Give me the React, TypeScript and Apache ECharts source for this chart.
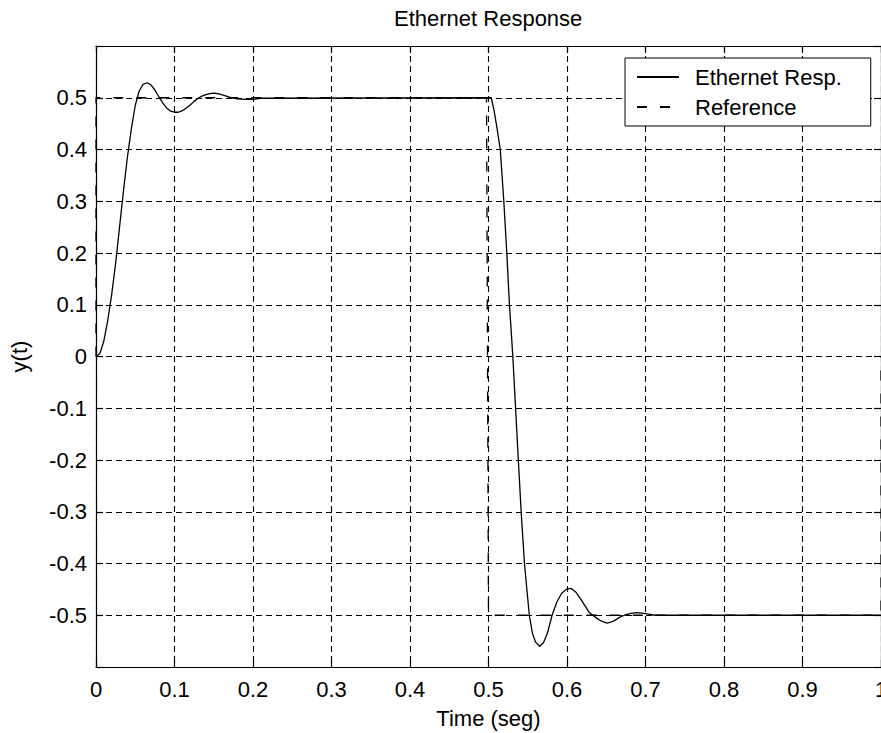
import React, { useEffect, useRef } from "react";
import * as echarts from "echarts";

const chartTitle = "Ethernet Response";
const xAxisName = "Time (seg)";
const yAxisName = "y(t)";
const seriesNames = ["Ethernet Resp.", "Reference"];

// Ethernet response
const respT = [
  0, 0.005, 0.01, 0.015, 0.02, 0.025, 0.03, 0.035, 0.04, 0.045, 0.05, 0.055, 0.06, 0.065, 0.07,
  0.075, 0.08, 0.085, 0.09, 0.095, 0.1, 0.105, 0.11, 0.115, 0.12, 0.125, 0.13, 0.135, 0.14, 0.145,
  0.15, 0.155, 0.16, 0.17, 0.18, 0.19, 0.2, 0.21, 0.5035, 0.507, 0.511, 0.515, 0.5195, 0.5233,
  0.5267, 0.531, 0.5345, 0.538, 0.5416, 0.5458, 0.552, 0.556, 0.56, 0.565, 0.57, 0.575, 0.581,
  0.587, 0.593, 0.599, 0.605, 0.611, 0.617, 0.623, 0.628, 0.633, 0.639, 0.645, 0.651, 0.657,
  0.663, 0.668, 0.673, 0.68, 0.688, 0.696, 0.704, 0.712, 1.0,
];
const respY = [
  0, 0.006, 0.03, 0.07, 0.12, 0.18, 0.25, 0.32, 0.385, 0.44, 0.485, 0.513, 0.526, 0.529, 0.525,
  0.515, 0.502, 0.49, 0.48, 0.474, 0.472, 0.472, 0.475, 0.48, 0.486, 0.493, 0.499, 0.503, 0.506,
  0.508, 0.509, 0.508, 0.506, 0.501, 0.498, 0.497, 0.497, 0.499, 0.5, 0.476, 0.44, 0.4, 0.3, 0.2,
  0.1, 0, -0.1, -0.2, -0.3, -0.4, -0.5, -0.535, -0.552, -0.56, -0.553, -0.535, -0.5, -0.475,
  -0.458, -0.45, -0.448, -0.455, -0.468, -0.482, -0.494, -0.5, -0.507, -0.512, -0.515, -0.513,
  -0.508, -0.503, -0.5, -0.497, -0.495, -0.496, -0.498, -0.5, -0.5,
];

// Reference square wave
const refT = [0, 0, 0.4975, 0.5, 1, 1];
const refY = [0, 0.5, 0.5, -0.5, -0.5, 0];

const FONT = '"Liberation Sans", Arial, sans-serif';
const FS = 22;

export default function App() {
  const ref = useRef<HTMLDivElement>(null);
  useEffect(() => {
    if (!ref.current) return;
    const chart = echarts.init(ref.current, null, { renderer: "svg" });
    const respData = respT.map((t, i) => [t, respY[i]]);
    const refData = refT.map((t, i) => [t, refY[i]]);
    const axisLine = { show: true, onZero: false, lineStyle: { color: "#000", width: 1.2 } };
    const axisTick = { show: true, inside: true, length: 7, lineStyle: { color: "#000", width: 1.2 } };
    const splitLine = { show: true, lineStyle: { color: "#000", width: 1.1, type: [6, 4] } };
    const labelStyle = { fontSize: FS, color: "#000", fontFamily: FONT };
    const fmtX = (v: number) => String(+v.toFixed(1));
    const fmtY = (v: number) => (Math.abs(Math.abs(v) - 0.6) < 1e-6 ? "" : String(+v.toFixed(1)));

    chart.setOption({
      animation: false,
      backgroundColor: "#fff",
      title: {
        text: chartTitle,
        left: 394,
        top: 7,
        padding: 0,
        textStyle: { fontSize: FS, fontWeight: "normal", color: "#000", fontFamily: FONT },
      },
      grid: { left: 96, right: 0, top: 46, bottom: 66, containLabel: false, outerBoundsMode: "none" },
      legend: {
        orient: "vertical",
        left: 625,
        top: 58,
        padding: [8, 29, 8, 11],
        itemGap: 8,
        itemWidth: 42,
        itemHeight: 14,
        backgroundColor: "#fff",
        borderColor: "#000",
        borderWidth: 1,
        borderRadius: 0,
        itemStyle: { opacity: 0 },
        textStyle: { ...labelStyle, padding: [0, 0, 0, 11] },
        data: seriesNames,
      },
      xAxis: [
        {
          type: "value",
          min: 0,
          max: 1,
          interval: 0.1,
          position: "bottom",
          axisLine,
          axisTick,
          splitLine,
          axisLabel: { ...labelStyle, margin: 11, formatter: fmtX, showMinLabel: true, showMaxLabel: true },
          name: xAxisName,
          nameLocation: "middle",
          nameGap: 40,
          nameTextStyle: labelStyle,
        },
        {
          type: "value",
          min: 0,
          max: 1,
          interval: 0.1,
          position: "top",
          axisLine,
          axisTick,
          splitLine: { show: false },
          axisLabel: { show: false },
        },
      ],
      yAxis: [
        {
          type: "value",
          min: -0.6,
          max: 0.6,
          interval: 0.1,
          position: "left",
          axisLine,
          axisTick,
          splitLine,
          axisLabel: { ...labelStyle, margin: 9, formatter: fmtY, showMinLabel: true, showMaxLabel: true },
          name: yAxisName,
          nameLocation: "middle",
          nameGap: 66,
          nameTextStyle: labelStyle,
        },
        {
          type: "value",
          min: -0.6,
          max: 0.6,
          interval: 0.1,
          position: "right",
          axisLine,
          axisTick,
          splitLine: { show: false },
          axisLabel: { show: false },
        },
      ],
      series: [
        {
          name: seriesNames[0],
          type: "line",
          data: respData,
          showSymbol: false,
          symbol: "none",
          lineStyle: { color: "#000", width: 1.3, type: "solid" },
          itemStyle: { color: "#000" },
          z: 3,
        },
        {
          name: seriesNames[1],
          type: "line",
          data: refData,
          showSymbol: false,
          symbol: "none",
          lineStyle: { color: "#000", width: 1.3, type: [10, 13] },
          itemStyle: { color: "#000" },
          z: 2,
        },
      ],
    });
    return () => chart.dispose();
  }, []);
  return (
    <div
      ref={ref}
      style={{ position: "fixed", left: 0, top: 0, width: 881, height: 733, background: "#fff" }}
    />
  );
}
